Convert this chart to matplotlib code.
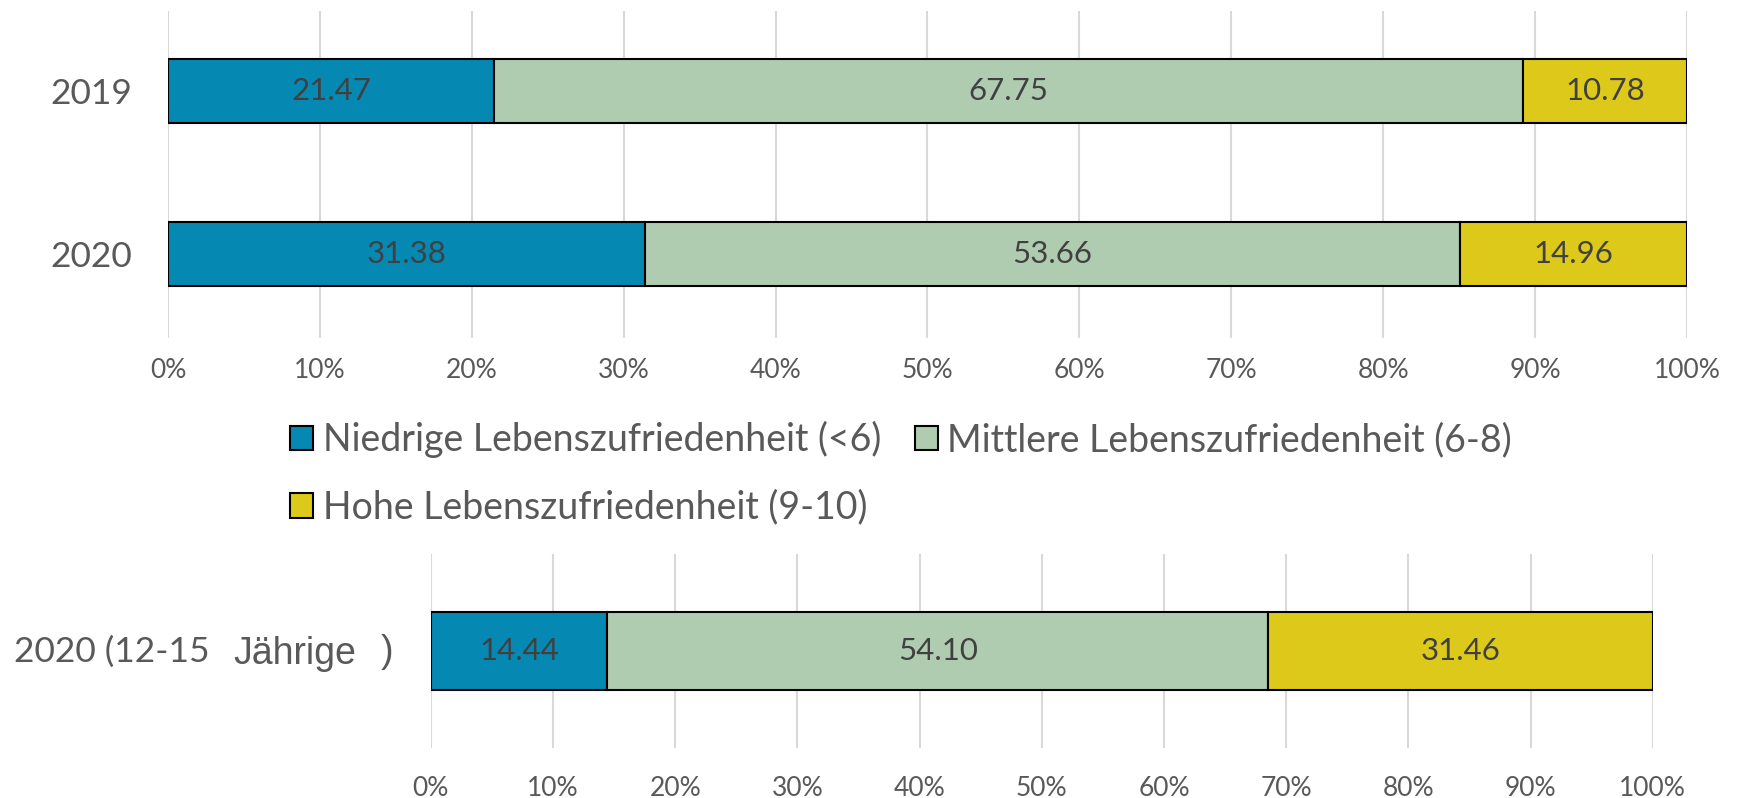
import numpy as np
import matplotlib
matplotlib.use("Agg")
import matplotlib.pyplot as plt
from matplotlib.patches import Patch

plt.rcParams['font.family'] = ['Lato', 'DejaVu Sans']

# data
jahre = ['2019', '2020']
niedrig = [21.47, 31.38]
mittel = [67.75, 53.66]
hoch = [10.78, 14.96]

jugend_niedrig = [14.44]
jugend_mittel = [54.10]
jugend_hoch = [31.46]

serien = ['Niedrige Lebenszufriedenheit (<6)',
          'Mittlere Lebenszufriedenheit (6-8)',
          'Hohe Lebenszufriedenheit (9-10)']
farben = ['#0588B2', '#AFCCB0', '#DDC91A']
ticks = [0, 10, 20, 30, 40, 50, 60, 70, 80, 90, 100]

grau = '#595959'
textgrau = '#404040'


def stacked(ax, ypos, reihen, hoehe):
    links = np.zeros(len(ypos))
    for werte, farbe in zip(reihen, farben):
        werte = np.array(werte)
        bars = ax.barh(ypos, werte, left=links, height=hoehe, color=farbe,
                       edgecolor='black', linewidth=1.5, zorder=3)
        ax.bar_label(bars, labels=['%.2f' % v for v in werte],
                     label_type='center', color=textgrau, fontsize=22.5)
        links = links + werte
    ax.set_xlim(0, 100)
    ax.set_xticks(ticks)
    ax.set_xticklabels(['%d%%' % t for t in ticks], color=grau, fontsize=19)
    ax.tick_params(length=0)
    ax.grid(axis='x', color='#D9D9D9', linewidth=1.5, zorder=0)
    for s in ax.spines.values():
        s.set_visible(False)


fig = plt.figure(figsize=(17.37, 7.98), dpi=100)

ax1 = fig.add_axes([0.0967, 0.576, 0.8745, 0.410])
stacked(ax1, np.arange(len(jahre)), [niedrig, mittel, hoch], 0.39)
ax1.set_ylim(1.515, -0.49)
ax1.set_yticks(np.arange(len(jahre)))
ax1.set_yticklabels(jahre, color=grau, fontsize=25.5)
ax1.tick_params(axis='y', pad=26)
ax1.tick_params(axis='x', pad=14)

ax2 = fig.add_axes([0.248, 0.0627, 0.7035, 0.243])
stacked(ax2, np.arange(1), [jugend_niedrig, jugend_mittel, jugend_hoch], 0.40)
ax2.set_ylim(-0.5, 0.5)
ax2.set_yticks([])
ax2.tick_params(axis='x', pad=20)

# y label of the lower chart, written in pieces like the original
fig.text(14 / 1737, 1 - 652 / 798, '2020 (12-15', color=grau, fontsize=25.5, va='center')
fig.text(233 / 1737, 1 - 654 / 798, 'Jährige', color=grau, fontsize=27,
         va='center', family='Liberation Sans')
fig.text(381 / 1737, 1 - 652 / 798, ')', color=grau, fontsize=27,
         va='center', family='Liberation Sans')

handles = [Patch(facecolor=f, edgecolor='black', linewidth=1.5) for f in farben]
order = [0, 2, 1]
fig.legend([handles[i] for i in order], [serien[i] for i in order],
           loc='upper left', bbox_to_anchor=(290 / 1737, 1 - 421 / 798),
           ncol=2, frameon=False, fontsize=27, labelcolor=grau,
           handlelength=0.62, handleheight=0.62, handletextpad=0.25,
           columnspacing=0.9, labelspacing=0.84, borderpad=0, borderaxespad=0)

fig.savefig('out.png', dpi=100)
